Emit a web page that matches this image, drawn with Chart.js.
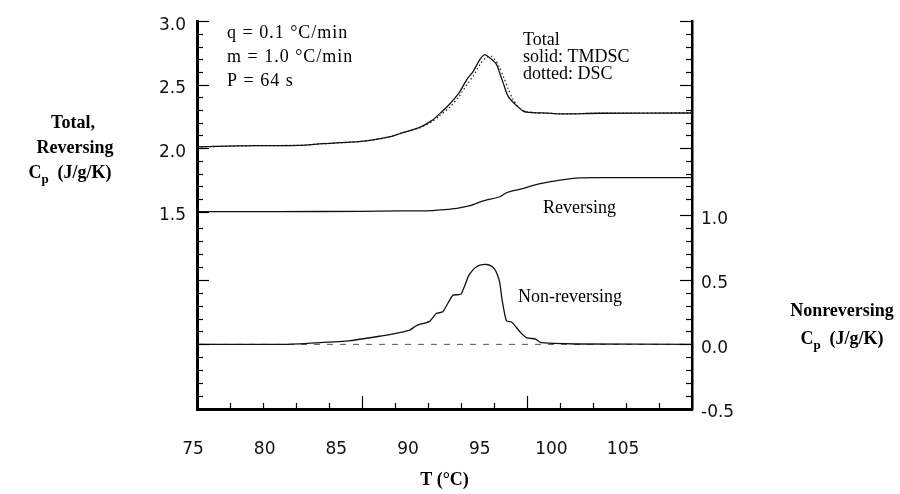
<!DOCTYPE html>
<html>
<head>
<meta charset="utf-8">
<script src="https://cdn.jsdelivr.net/npm/chart.js@4/dist/chart.umd.min.js"></script>
<style>
  html, body { margin: 0; padding: 0; background: #fff; }
  #wrap { width: 900px; height: 494px; position: relative; }
</style>
</head>
<body>
<div id="wrap"><canvas id="c" width="900" height="494"></canvas></div>
<script>
// Total heat capacity from TMDSC (J/g/K) against temperature (°C)
const totalT  = [75, 78.6, 81.2, 82.6, 84.3, 85.5, 86.7, 87.3, 88.5, 89.2, 89.7, 90.3, 90.9, 91.35, 91.75, 92.15, 92.45, 92.75, 93.15, 93.35, 93.55, 93.85, 94.25, 94.8, 95.4, 96.2, 97.0, 99.4, 105];
const totalCp = [2.01, 2.02, 2.022, 2.035, 2.047, 2.062, 2.09, 2.115, 2.164, 2.215, 2.27, 2.346, 2.44, 2.54, 2.607, 2.70, 2.737, 2.71, 2.66, 2.59, 2.516, 2.41, 2.35, 2.29, 2.28, 2.276, 2.27, 2.275, 2.277];

// Conventional DSC heat capacity (J/g/K)
const dscT  = [75, 78.6, 81.2, 82.6, 84.3, 85.5, 86.7, 87.3, 88.5, 89.2, 89.7, 90.3, 90.9, 91.35, 91.75, 92.15, 92.5, 92.8, 93.05, 93.3, 93.6, 93.85, 94.15, 94.5, 94.9, 95.5, 96.2, 97.0, 99.4, 105];
const dscCp = [2.01, 2.02, 2.022, 2.035, 2.047, 2.062, 2.09, 2.115, 2.16, 2.205, 2.255, 2.32, 2.41, 2.50, 2.57, 2.66, 2.71, 2.725, 2.70, 2.645, 2.555, 2.47, 2.385, 2.32, 2.29, 2.278, 2.276, 2.27, 2.275, 2.277];

// Reversing heat capacity (J/g/K)
const revT  = [75, 80, 85, 87.3, 89.3, 90.0, 90.75, 91.55, 92.35, 93.35, 93.75, 94.6, 95.8, 97.0, 98.2, 99.4, 105];
const revCp = [1.50, 1.50, 1.502, 1.505, 1.508, 1.515, 1.526, 1.547, 1.584, 1.617, 1.648, 1.677, 1.72, 1.748, 1.766, 1.768, 1.768];

// Non-reversing heat capacity (J/g/K), right-hand axis
const nonrevT  = [75, 80.2, 82.25, 84.3, 86.3, 86.9, 87.9, 88.3, 89.1, 89.5, 89.9, 90.5, 91.0, 91.45, 91.75, 91.95, 92.15, 92.55, 92.85, 93.05, 93.2, 93.35, 93.5, 93.75, 94.1, 94.6, 95.0, 95.5, 95.8, 96.6, 98, 105];
const nonrevCp = [0.0, 0.0, 0.012, 0.029, 0.068, 0.081, 0.111, 0.145, 0.178, 0.239, 0.252, 0.38, 0.388, 0.528, 0.58, 0.60, 0.613, 0.618, 0.605, 0.58, 0.54, 0.477, 0.336, 0.183, 0.17, 0.093, 0.05, 0.042, 0.016, 0.008, 0.003, 0.0];

// Zero reference for the non-reversing signal
const zeroT  = [75, 105];
const zeroCp = [0, 0];

// Axis labels
const xLabels     = [75, 80, 85, 90, 95, 100, 105];
const leftLabels  = [1.5, 2.0, 2.5, 3.0];
const rightLabels = [-0.5, 0.0, 0.5, 1.0];

const pts = (xs, ys) => xs.map((v, i) => ({ x: v, y: ys[i] }));
const near = (a, b) => Math.abs(a - b) < 1e-6;
const r1 = v => Math.round(v * 10) / 10;

const tickFont = { family: 'DejaVu Sans', size: 17 };

// Inward tick marks on the left, right and bottom axes
const tickMarks = {
  id: 'tickMarks',
  afterDraw(chart) {
    const { ctx, chartArea: a, scales: { x, y, y2 } } = chart;
    ctx.save();
    ctx.strokeStyle = '#000';
    ctx.lineWidth = 1.2;
    const line = (x1, y1, x2, y2_) => { ctx.beginPath(); ctx.moveTo(x1, y1); ctx.lineTo(x2, y2_); ctx.stroke(); };
    const major = (v, step) => near(v / step, Math.round(v / step));

    x.ticks.forEach(t => {
      const px = Math.round(x.getPixelForValue(t.value)) + 0.5;
      line(px, a.bottom, px, a.bottom - (major(t.value, 5) ? 13 : 6));
    });

    const leftSet = [], rightSet = [];
    y.ticks.forEach(t => {
      const py = Math.round(y.getPixelForValue(t.value)) + 0.5;
      const len = major(t.value, 0.5) ? 12 : 6;
      leftSet.push([py, len]);
      if (t.value > 1.55) rightSet.push([py, len]);
    });
    y2.ticks.forEach(t => {
      const py = Math.round(y2.getPixelForValue(t.value)) + 0.5;
      const len = major(t.value, 0.5) ? 12 : 6;
      rightSet.push([py, len]);
      if (t.value < 0.95) leftSet.push([py, len]);
    });
    leftSet.forEach(([py, len]) => line(a.left, py, a.left + len, py));
    rightSet.forEach(([py, len]) => line(a.right, py, a.right - len, py));
    ctx.restore();
  }
};

// Axis titles written horizontally, and the in-plot notes
const notes = {
  id: 'notes',
  afterDraw(chart) {
    const { ctx } = chart;
    ctx.save();
    ctx.fillStyle = '#000';
    ctx.textBaseline = 'alphabetic';

    const bold = 'bold 18px "Liberation Serif"';
    const sub = 'bold 13px "Liberation Serif"';
    const drawCp = (cx, base) => {
      ctx.font = bold; const wC = ctx.measureText('C').width;
      const rest = '  (J/g/K)'; const wR = ctx.measureText(rest).width;
      ctx.font = sub; const wP = ctx.measureText('p').width;
      const x0 = cx - (wC + wP + wR) / 2;
      ctx.textAlign = 'left';
      ctx.font = bold; ctx.fillText('C', x0, base);
      ctx.font = sub; ctx.fillText('p', x0 + wC, base + 5);
      ctx.font = bold; ctx.fillText(rest, x0 + wC + wP, base);
    };

    ctx.font = bold;
    ctx.textAlign = 'center';
    ctx.fillText('Total,', 73, 128);
    ctx.fillText('Reversing', 75, 153);
    drawCp(70, 178);

    ctx.font = bold;
    ctx.textAlign = 'center';
    ctx.fillText('Nonreversing', 842, 316);
    drawCp(842, 344);

    ctx.font = '18px "Liberation Serif"';
    ctx.textAlign = 'left';
    ctx.letterSpacing = '1px';
    ctx.fillText('q = 0.1 °C/min', 227, 38);
    ctx.fillText('m = 1.0 °C/min', 227, 62);
    ctx.fillText('P = 64 s', 227, 86);
    ctx.letterSpacing = '0px';
    ctx.fillText('Total', 523, 45);
    ctx.fillText('solid: TMDSC', 523, 62);
    ctx.fillText('dotted: DSC', 523, 79);
    ctx.fillText('Reversing', 543, 213);
    ctx.fillText('Non-reversing', 518, 302);
    ctx.restore();
  }
};

const solid = { borderColor: '#111', borderWidth: 1.3, pointRadius: 0, fill: false, xAxisID: 'x' };

new Chart(document.getElementById('c'), {
  type: 'line',
  data: {
    datasets: [
      { ...solid, label: 'Total (TMDSC)', data: pts(totalT, totalCp), yAxisID: 'y', tension: 0.25 },
      { ...solid, label: 'Total (DSC)', data: pts(dscT, dscCp), yAxisID: 'y', tension: 0.25, borderDash: [1.5, 2.5], borderColor: '#333' },
      { ...solid, label: 'Reversing', data: pts(revT, revCp), yAxisID: 'y', tension: 0.25 },
      { ...solid, label: 'Non-reversing', data: pts(nonrevT, nonrevCp), yAxisID: 'y2', tension: 0.15 },
      { ...solid, label: 'Zero', data: pts(zeroT, zeroCp), yAxisID: 'y2', borderDash: [6, 7], borderColor: '#555', borderWidth: 1 }
    ]
  },
  options: {
    responsive: false,
    animation: false,
    events: [],
    layout: { padding: { top: 18, left: 0, right: 0, bottom: 0 } },
    plugins: { legend: { display: false }, tooltip: { enabled: false } },
    scales: {
      // temperature scale that places the curves and the tick marks
      x: {
        type: 'linear', position: 'bottom', min: 75, max: 105, display: false,
        afterBuildTicks: s => {
          const t = [];
          for (let v = s.min; v <= s.max + 1e-9; v += 1) t.push({ value: Math.round(v) });
          s.ticks = t;
        }
      },
      // printed temperature labels, axis line and title
      xl: {
        type: 'linear', position: 'bottom', min: 75.28, max: 109.81,
        afterBuildTicks: s => { s.ticks = xLabels.map(v => ({ value: v })); },
        afterFit: s => { s.height = 85; },
        grid: { display: false, drawTicks: false },
        border: { display: true, color: '#000', width: 3 },
        ticks: {
          autoSkip: false, maxRotation: 0, minRotation: 0, padding: 30,
          color: '#111', font: tickFont,
          callback: v => String(v)
        },
        title: {
          display: true, text: 'T (°C)', color: '#000',
          font: { family: 'Liberation Serif', size: 18, weight: 'bold' },
          padding: { top: 0, bottom: 3 }
        }
      },
      y: {
        type: 'linear', position: 'left', min: -0.055, max: 3.0,
        afterBuildTicks: s => {
          const t = [];
          for (let v = leftLabels[0]; v <= leftLabels[leftLabels.length - 1] + 1e-9; v += 0.1) t.push({ value: r1(v) });
          s.ticks = t;
        },
        afterFit: s => { s.width = 197; },
        grid: { display: false, drawTicks: false },
        border: { display: true, color: '#000', width: 3 },
        ticks: {
          padding: 11, labelOffset: 4, color: '#111', font: tickFont,
          callback: v => leftLabels.some(l => near(l, v)) ? v.toFixed(1) : ''
        }
      },
      y2: {
        type: 'linear', position: 'right', min: -0.5, max: 2.5,
        afterBuildTicks: s => {
          const t = [];
          for (let v = rightLabels[0]; v <= rightLabels[rightLabels.length - 1] + 1e-9; v += 0.1) t.push({ value: r1(v) });
          s.ticks = t;
        },
        afterFit: s => { s.width = 208; },
        grid: { display: false, drawTicks: false },
        border: { display: true, color: '#000', width: 2.5 },
        ticks: {
          padding: 9, labelOffset: 4, color: '#111', font: tickFont,
          callback: v => rightLabels.some(l => near(l, v)) ? v.toFixed(1) : ''
        }
      }
    }
  },
  plugins: [tickMarks, notes]
});
</script>
</body>
</html>
